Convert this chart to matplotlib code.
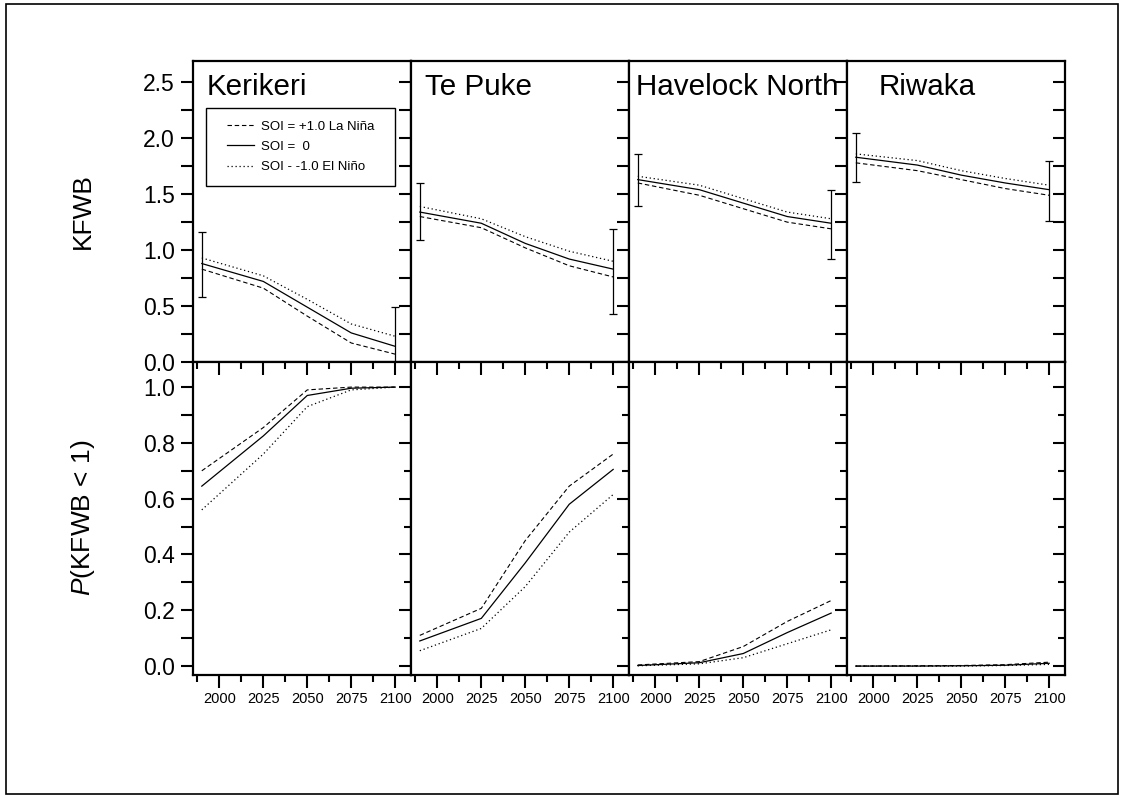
import matplotlib
matplotlib.use('Agg')
import matplotlib.pyplot as plt
from matplotlib.lines import TICKLEFT, TICKDOWN
from matplotlib.patches import Rectangle
from matplotlib.ticker import MultipleLocator, FormatStrFormatter

plt.rcParams['font.family'] = ['Liberation Sans', 'DejaVu Sans']
plt.rcParams['mathtext.fontset'] = 'custom'
plt.rcParams['mathtext.it'] = 'Liberation Sans:italic'
plt.rcParams['mathtext.rm'] = 'Liberation Sans'

# ---- data ----
years = [1990, 2025, 2050, 2075, 2100]
sites = ['Kerikeri', 'Te Puke', 'Havelock North', 'Riwaka']
legend_labels = ['SOI = +1.0 La Niña', 'SOI =  0', 'SOI - -1.0 El Niño']

# KFWB, one list per site
kfwb_lanina = [[0.83, 0.66, 0.41, 0.17, 0.07],
               [1.30, 1.20, 1.02, 0.86, 0.76],
               [1.60, 1.49, 1.37, 1.25, 1.19],
               [1.78, 1.71, 1.63, 1.55, 1.49]]
kfwb_neutral = [[0.88, 0.72, 0.49, 0.26, 0.14],
                [1.34, 1.24, 1.06, 0.92, 0.83],
                [1.63, 1.54, 1.42, 1.30, 1.24],
                [1.83, 1.76, 1.67, 1.60, 1.54]]
kfwb_elnino = [[0.93, 0.77, 0.56, 0.34, 0.23],
               [1.39, 1.28, 1.12, 0.99, 0.90],
               [1.66, 1.58, 1.46, 1.34, 1.28],
               [1.86, 1.80, 1.71, 1.64, 1.58]]

# error bar ranges (low, high) at first and last year
err_start = [(0.58, 1.16), (1.09, 1.60), (1.39, 1.86), (1.61, 2.05)]
err_end = [(-0.30, 0.49), (0.43, 1.19), (0.92, 1.54), (1.26, 1.80)]

# P(KFWB < 1)
p_lanina = [[0.70, 0.855, 0.99, 1.0, 1.0],
            [0.11, 0.207, 0.45, 0.645, 0.76],
            [0.004, 0.016, 0.07, 0.16, 0.235],
            [0.0, 0.001, 0.002, 0.005, 0.014]]
p_neutral = [[0.645, 0.825, 0.97, 0.996, 1.0],
             [0.09, 0.171, 0.37, 0.58, 0.705],
             [0.002, 0.012, 0.045, 0.12, 0.19],
             [0.0, 0.0, 0.001, 0.003, 0.010]]
p_elnino = [[0.56, 0.76, 0.93, 0.99, 1.0],
            [0.055, 0.135, 0.285, 0.48, 0.615],
            [0.001, 0.008, 0.03, 0.08, 0.13],
            [0.0, 0.0, 0.0, 0.002, 0.006]]

title_x = [0.064, 0.064, 0.032, 0.147]

W, H = 1122, 798
fig = plt.figure(figsize=(W / 100, H / 100), dpi=100)
fig.patches.append(Rectangle((6 / W, 4 / H), 1112 / W, 790 / H, transform=fig.transFigure,
                             fill=False, lw=1.2, edgecolor='black'))

styles = [dict(ls=(0, (4, 2.5)), lw=0.8), dict(ls='-', lw=0.9), dict(ls=(0, (1, 2.2)), lw=0.9)]

left0, pw = 193, 218
top_y0, top_y1 = 61, 362
bot_y0, bot_y1 = 362, 675


def style_axis(ax, first, minor_len):
    for s in ax.spines.values():
        s.set_linewidth(1.6)
    if first:
        # labelled outward ticks on the left, inward ticks on the right
        ax.tick_params(axis='y', which='both', left=True, right=True, direction='out',
                       width=1.5, labelsize=16.5, labelleft=True, labelright=False, pad=4)
        ax.tick_params(axis='y', which='major', length=9)
        ax.tick_params(axis='y', which='minor', length=9)
        for t in ax.yaxis.get_major_ticks():
            t.tick2line.set_marker(TICKLEFT)
        for t in ax.yaxis.get_minor_ticks():
            t.tick2line.set_marker(TICKLEFT)
            t.tick2line.set_markersize(minor_len)
    else:
        ax.tick_params(axis='y', which='both', left=False, right=True, direction='in',
                       width=1.5, labelleft=False, labelright=False)
        ax.tick_params(axis='y', which='major', length=9)
        ax.tick_params(axis='y', which='minor', length=minor_len)


for i, site in enumerate(sites):
    x0 = (left0 + i * pw) / W
    # ---- top row: KFWB ----
    ax = fig.add_axes([x0, 1 - top_y1 / H, pw / W, (top_y1 - top_y0) / H])
    ax.plot(years, kfwb_lanina[i], color='black', **styles[0], label=legend_labels[0])
    ax.plot(years, kfwb_neutral[i], color='black', **styles[1], label=legend_labels[1])
    ax.plot(years, kfwb_elnino[i], color='black', **styles[2], label=legend_labels[2])
    for xx, (lo, hi) in [(years[0], err_start[i]), (years[-1], err_end[i])]:
        ax.errorbar([xx], [(lo + hi) / 2], yerr=[[(hi - lo) / 2], [(hi - lo) / 2]],
                    fmt='none', ecolor='black', elinewidth=0.9, capsize=3, capthick=0.9)
    ax.set_xlim(1985, 2109)
    ax.set_ylim(0, 2.69)
    ax.yaxis.set_major_locator(MultipleLocator(0.5))
    ax.yaxis.set_minor_locator(MultipleLocator(0.25))
    ax.yaxis.set_major_formatter(FormatStrFormatter('%.1f'))
    ax.set_xticks([])
    style_axis(ax, i == 0, 9)
    ax.text(title_x[i], 0.914, site, transform=ax.transAxes, fontsize=21.3, va='center', ha='left')
    if i == 0:
        ax.add_patch(Rectangle((0.06, 0.585), 0.867, 0.259, transform=ax.transAxes,
                               fill=False, lw=1.0, edgecolor='black', zorder=5))
        ax.legend(loc='center', bbox_to_anchor=(0.4935, 0.7145), frameon=False,
                  fontsize=9.5, handlelength=2.1, handletextpad=0.5,
                  labelspacing=0.6, borderpad=0, borderaxespad=0)

    # ---- bottom row: P(KFWB < 1) ----
    bx = fig.add_axes([x0, 1 - bot_y1 / H, pw / W, (bot_y1 - bot_y0) / H])
    bx.plot(years, p_lanina[i], color='black', **styles[0])
    bx.plot(years, p_neutral[i], color='black', **styles[1])
    bx.plot(years, p_elnino[i], color='black', **styles[2])
    bx.set_xlim(1985, 2109)
    bx.set_ylim(-0.032, 1.09)
    bx.yaxis.set_major_locator(MultipleLocator(0.2))
    bx.yaxis.set_minor_locator(MultipleLocator(0.1))
    bx.yaxis.set_major_formatter(FormatStrFormatter('%.1f'))
    bx.set_xticks([2000, 2025, 2050, 2075, 2100])
    bx.xaxis.set_minor_locator(MultipleLocator(12.5))
    style_axis(bx, i == 0, 5)
    bx.tick_params(axis='x', which='both', top=True, bottom=True, direction='out',
                   width=1.5, labelsize=10.5, pad=3)
    bx.tick_params(axis='x', which='major', length=9)
    bx.tick_params(axis='x', which='minor', length=5)
    for t in bx.xaxis.get_major_ticks() + bx.xaxis.get_minor_ticks():
        t.tick2line.set_marker(TICKDOWN)

fig.text(83 / W, 1 - 211 / H, 'KFWB', rotation=90, fontsize=19, ha='center', va='center')
fig.text(83 / W, 1 - 518 / H, '$P$(KFWB < 1)', rotation=90, fontsize=19, ha='center', va='center')

fig.savefig('out.png', dpi=100)
